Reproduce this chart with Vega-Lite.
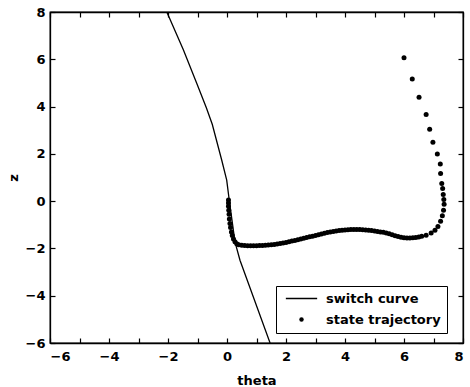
{
  "$schema": "https://vega.github.io/schema/vega-lite/v6.json",
  "width": 413,
  "height": 331,
  "autosize": {"type": "none"},
  "padding": {"left": 50, "top": 12, "right": 7, "bottom": 44},
  "background": "white",
  "config": {
    "view": {"stroke": "black", "strokeWidth": 1.3},
    "font": "DejaVu Sans",
    "axis": {
      "grid": false,
      "domainColor": "black",
      "domainWidth": 1.3,
      "tickColor": "black",
      "tickWidth": 1.2,
      "tickSize": -5,
      "labelFont": "DejaVu Sans",
      "labelFontSize": 13,
      "labelFontWeight": "bold",
      "labelColor": "black",
      "titleFont": "DejaVu Sans",
      "titleFontSize": 13,
      "titleFontWeight": "bold",
      "titleColor": "black",
      "values": [-6, -4, -2, 0, 2, 4, 6, 8]
    }
  },
  "datasets": {
    "curve": [
      {"theta": -2.04, "z": 8.0},
      {"theta": -1.48, "z": 6.4},
      {"theta": -1.03, "z": 5.0},
      {"theta": -0.7, "z": 3.95},
      {"theta": -0.5, "z": 3.25},
      {"theta": -0.18, "z": 1.74},
      {"theta": -0.01, "z": 0.89},
      {"theta": 0.07, "z": 0.1},
      {"theta": 0.27, "z": -1.72},
      {"theta": 0.44, "z": -2.5},
      {"theta": 1.46, "z": -6.0}
    ],
    "traj": [
      {"theta": 6.0, "z": 6.06, "series": "state trajectory"},
      {"theta": 6.28, "z": 5.17, "series": "state trajectory"},
      {"theta": 6.51, "z": 4.39, "series": "state trajectory"},
      {"theta": 6.75, "z": 3.66, "series": "state trajectory"},
      {"theta": 6.87, "z": 3.04, "series": "state trajectory"},
      {"theta": 6.98, "z": 2.49, "series": "state trajectory"},
      {"theta": 7.13, "z": 1.99, "series": "state trajectory"},
      {"theta": 7.23, "z": 1.57, "series": "state trajectory"},
      {"theta": 7.24, "z": 1.17, "series": "state trajectory"},
      {"theta": 7.28, "z": 0.75, "series": "state trajectory"},
      {"theta": 7.31, "z": 0.54, "series": "state trajectory"},
      {"theta": 7.33, "z": 0.28, "series": "state trajectory"},
      {"theta": 7.35, "z": 0.07, "series": "state trajectory"},
      {"theta": 7.36, "z": -0.13, "series": "state trajectory"},
      {"theta": 7.34, "z": -0.38, "series": "state trajectory"},
      {"theta": 7.3, "z": -0.62, "series": "state trajectory"},
      {"theta": 7.24, "z": -0.85, "series": "state trajectory"},
      {"theta": 7.15, "z": -1.07, "series": "state trajectory"},
      {"theta": 7.05, "z": -1.23, "series": "state trajectory"},
      {"theta": 6.92, "z": -1.35, "series": "state trajectory"},
      {"theta": 6.75, "z": -1.44, "series": "state trajectory"},
      {"theta": 6.6, "z": -1.49, "series": "state trajectory"},
      {"theta": 6.5, "z": -1.52, "series": "state trajectory"},
      {"theta": 6.4, "z": -1.54, "series": "state trajectory"},
      {"theta": 6.3, "z": -1.55, "series": "state trajectory"},
      {"theta": 6.2, "z": -1.56, "series": "state trajectory"},
      {"theta": 6.1, "z": -1.56, "series": "state trajectory"},
      {"theta": 6.0, "z": -1.55, "series": "state trajectory"},
      {"theta": 5.9, "z": -1.53, "series": "state trajectory"},
      {"theta": 5.8, "z": -1.5, "series": "state trajectory"},
      {"theta": 5.7, "z": -1.46, "series": "state trajectory"},
      {"theta": 5.6, "z": -1.42, "series": "state trajectory"},
      {"theta": 5.5, "z": -1.38, "series": "state trajectory"},
      {"theta": 5.4, "z": -1.35, "series": "state trajectory"},
      {"theta": 5.3, "z": -1.32, "series": "state trajectory"},
      {"theta": 5.2, "z": -1.3, "series": "state trajectory"},
      {"theta": 5.1, "z": -1.28, "series": "state trajectory"},
      {"theta": 5.0, "z": -1.26, "series": "state trajectory"},
      {"theta": 4.9, "z": -1.24, "series": "state trajectory"},
      {"theta": 4.8, "z": -1.23, "series": "state trajectory"},
      {"theta": 4.7, "z": -1.22, "series": "state trajectory"},
      {"theta": 4.6, "z": -1.21, "series": "state trajectory"},
      {"theta": 4.5, "z": -1.2, "series": "state trajectory"},
      {"theta": 4.4, "z": -1.2, "series": "state trajectory"},
      {"theta": 4.3, "z": -1.2, "series": "state trajectory"},
      {"theta": 4.2, "z": -1.2, "series": "state trajectory"},
      {"theta": 4.1, "z": -1.21, "series": "state trajectory"},
      {"theta": 4.0, "z": -1.22, "series": "state trajectory"},
      {"theta": 3.9, "z": -1.23, "series": "state trajectory"},
      {"theta": 3.8, "z": -1.24, "series": "state trajectory"},
      {"theta": 3.7, "z": -1.26, "series": "state trajectory"},
      {"theta": 3.6, "z": -1.28, "series": "state trajectory"},
      {"theta": 3.5, "z": -1.3, "series": "state trajectory"},
      {"theta": 3.4, "z": -1.33, "series": "state trajectory"},
      {"theta": 3.3, "z": -1.36, "series": "state trajectory"},
      {"theta": 3.2, "z": -1.39, "series": "state trajectory"},
      {"theta": 3.1, "z": -1.42, "series": "state trajectory"},
      {"theta": 3.0, "z": -1.45, "series": "state trajectory"},
      {"theta": 2.9, "z": -1.48, "series": "state trajectory"},
      {"theta": 2.8, "z": -1.51, "series": "state trajectory"},
      {"theta": 2.7, "z": -1.54, "series": "state trajectory"},
      {"theta": 2.6, "z": -1.57, "series": "state trajectory"},
      {"theta": 2.5, "z": -1.6, "series": "state trajectory"},
      {"theta": 2.4, "z": -1.63, "series": "state trajectory"},
      {"theta": 2.3, "z": -1.66, "series": "state trajectory"},
      {"theta": 2.2, "z": -1.69, "series": "state trajectory"},
      {"theta": 2.1, "z": -1.72, "series": "state trajectory"},
      {"theta": 2.0, "z": -1.75, "series": "state trajectory"},
      {"theta": 1.9, "z": -1.77, "series": "state trajectory"},
      {"theta": 1.8, "z": -1.79, "series": "state trajectory"},
      {"theta": 1.7, "z": -1.81, "series": "state trajectory"},
      {"theta": 1.6, "z": -1.83, "series": "state trajectory"},
      {"theta": 1.5, "z": -1.84, "series": "state trajectory"},
      {"theta": 1.4, "z": -1.86, "series": "state trajectory"},
      {"theta": 1.3, "z": -1.87, "series": "state trajectory"},
      {"theta": 1.2, "z": -1.88, "series": "state trajectory"},
      {"theta": 1.1, "z": -1.88, "series": "state trajectory"},
      {"theta": 1.0, "z": -1.89, "series": "state trajectory"},
      {"theta": 0.9, "z": -1.89, "series": "state trajectory"},
      {"theta": 0.8, "z": -1.89, "series": "state trajectory"},
      {"theta": 0.7, "z": -1.89, "series": "state trajectory"},
      {"theta": 0.6, "z": -1.88, "series": "state trajectory"},
      {"theta": 0.5, "z": -1.87, "series": "state trajectory"},
      {"theta": 0.4, "z": -1.84, "series": "state trajectory"},
      {"theta": 0.33, "z": -1.8, "series": "state trajectory"},
      {"theta": 0.27, "z": -1.72, "series": "state trajectory"},
      {"theta": 0.22, "z": -1.6, "series": "state trajectory"},
      {"theta": 0.18, "z": -1.45, "series": "state trajectory"},
      {"theta": 0.15, "z": -1.3, "series": "state trajectory"},
      {"theta": 0.12, "z": -1.12, "series": "state trajectory"},
      {"theta": 0.1, "z": -0.95, "series": "state trajectory"},
      {"theta": 0.08, "z": -0.75, "series": "state trajectory"},
      {"theta": 0.07, "z": -0.55, "series": "state trajectory"},
      {"theta": 0.06, "z": -0.38, "series": "state trajectory"},
      {"theta": 0.05, "z": -0.22, "series": "state trajectory"},
      {"theta": 0.05, "z": -0.08, "series": "state trajectory"},
      {"theta": 0.05, "z": 0.05, "series": "state trajectory"}
    ]
  },
  "layer": [
    {
      "data": {"name": "curve"},
      "mark": {"type": "line", "color": "black", "strokeWidth": 1.3, "clip": true},
      "encoding": {
        "x": {
          "field": "theta", "type": "quantitative",
          "scale": {"domain": [-6, 8], "nice": false, "zero": false},
          "axis": {"orient": "bottom", "title": "theta", "labelPadding": 12, "titlePadding": 11}
        },
        "y": {
          "field": "z", "type": "quantitative",
          "scale": {"domain": [-6, 8], "nice": false, "zero": false},
          "axis": {"orient": "left", "title": "z", "labelPadding": 10, "titlePadding": 5}
        }
      }
    },
    {
      "data": {"name": "traj"},
      "mark": {"type": "point", "filled": true, "color": "black", "size": 25, "opacity": 1},
      "encoding": {
        "x": {
          "field": "theta", "type": "quantitative",
          "axis": {"orient": "top", "title": null, "labels": false}
        },
        "y": {
          "field": "z", "type": "quantitative",
          "axis": {"orient": "right", "title": null, "labels": false}
        },
        "shape": {
          "field": "series", "type": "nominal",
          "scale": {"domain": ["switch curve", "state trajectory"], "range": ["M-7,-0.3H7V0.3H-7Z", "circle"]},
          "legend": {
            "title": null,
            "orient": "none",
            "legendX": 226,
            "legendY": 274,
            "strokeColor": "black",
            "fillColor": "white",
            "padding": 6,
            "symbolOffset": 13,
            "labelOffset": 18,
            "rowPadding": 7,
            "labelFont": "DejaVu Sans",
            "labelFontSize": 13,
            "labelFontWeight": "bold",
            "labelColor": "black",
            "symbolSize": 20,
            "symbolFillColor": "black",
            "symbolStrokeColor": "black",
            "symbolStrokeWidth": 0.5
          }
        }
      }
    }
  ],
  "resolve": {"axis": {"x": "independent", "y": "independent"}}
}
